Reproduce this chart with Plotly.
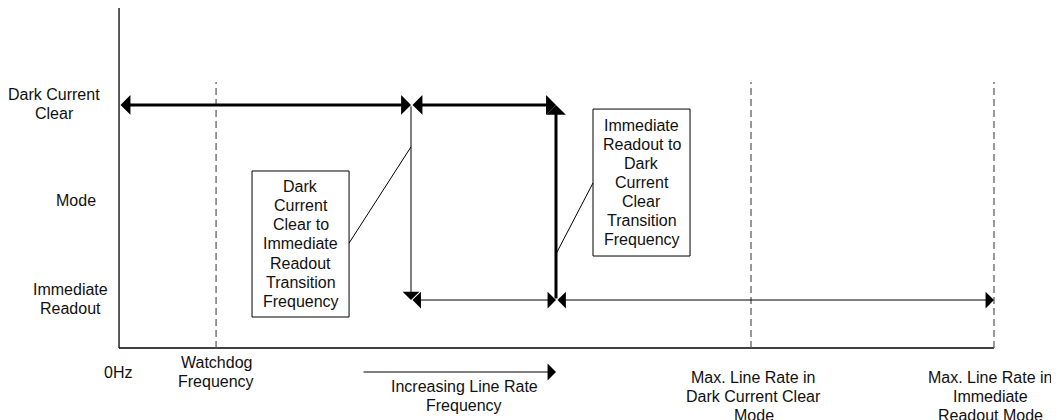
import plotly.graph_objects as go

# Frequency axis in arbitrary units (0Hz = 0, max rate in Immediate Readout = 100)
freq_names = ["0Hz", "Watchdog", "DCC->IR", "IR->DCC", "Max DCC", "Max IR"]
freq_vals = [0.0, 11.09, 33.37, 49.94, 72.23, 100.0]

# Mode levels on the y axis (Immediate Readout = 0, Dark Current Clear = 1)
mode_labels = [["Immediate", "Readout"], ["Mode"], ["Dark Current", "Clear"]]
mode_vals = [0.005, 0.508, 1.005]
mode_label_x = [-5.6, -4.91, -7.43]

# Mode bands: start freq, end freq, level, thick line
band_start = [0.0, 33.37, 33.37, 49.94]
band_end = [33.37, 49.94, 49.94, 100.0]
band_level = [1.0, 1.0, 0.0, 0.0]
band_thick = [True, True, False, False]

# Vertical transitions: freq, from level, to level, thick line
trans_freq = [33.37, 49.94]
trans_from = [1.0, 0.0]
trans_to = [0.0, 1.0]
trans_thick = [False, True]

# Dashed reference frequencies
dashed_freq = [11.09, 72.23, 100.0]
dashed_top = 1.118

axis_floor = -0.246
axis_top = 1.497

# Labels under the x axis
bottom_text = [["0Hz"], ["Watchdog", "Frequency"], ["Increasing Line Rate", "Frequency"],
               ["Max. Line Rate in", "Dark Current Clear", "Mode"],
               ["Max. Line Rate in", "Immediate", "Readout Mode"]]
bottom_x = [-0.11, 11.09, 39.43, 72.57, 99.6]
bottom_y = [-0.374, -0.369, -0.492, -0.492, -0.492]
incr_x0, incr_x1, incr_y = 27.77, 49.94, -0.369

# Callout boxes and leader lines
box_text = [["Dark", "Current", "Clear to", "Immediate", "Readout", "Transition", "Frequency"],
            ["Immediate", "Readout to", "Dark", "Current", "Clear", "Transition", "Frequency"]]
box_x0 = [15.2, 54.17]
box_x1 = [26.29, 65.26]
box_y0 = [-0.087, 0.2256]
box_y1 = [0.6615, 0.979]
lead_x0 = [26.29, 54.17]
lead_y0 = [0.292, 0.6]
lead_x1 = [33.37, 50.0]
lead_y1 = [0.785, 0.241]

LINE = 19 / 195  # line spacing in y units
FONT = dict(family="Arial, Liberation Sans, sans-serif", size=16, color="#111111")

shapes = []
annotations = []


def text_block(lines, cx, cy):
    n = len(lines)
    out = []
    for i, ln in enumerate(lines):
        out.append(dict(x=cx, y=cy + ((n - 1) / 2 - i) * LINE, text=ln, showarrow=False,
                        xref="x", yref="y", font=FONT, xanchor="center", yanchor="middle"))
    return out


def arrow(x, y, ax, ay, thick, double):
    return dict(x=x, y=y, ax=ax, ay=ay, xref="x", yref="y", axref="x", ayref="y",
                text="", showarrow=True, arrowhead=1,
                arrowside="end+start" if double else "end",
                arrowwidth=3 if thick else 1,
                arrowsize=1.1 if thick else 2.8,
                arrowcolor="black")


# axes
shapes.append(dict(type="line", x0=0, x1=0, y0=axis_floor, y1=axis_top,
                   line=dict(color="black", width=1.3)))
shapes.append(dict(type="line", x0=0, x1=freq_vals[-1], y0=axis_floor, y1=axis_floor,
                   line=dict(color="black", width=1.3)))

for f in dashed_freq:
    shapes.append(dict(type="line", x0=f, x1=f, y0=axis_floor, y1=dashed_top,
                       line=dict(color="#555555", width=1.2, dash="7px,4px")))

for s, e, lv, th in zip(band_start, band_end, band_level, band_thick):
    annotations.append(arrow(e, lv, s, lv, th, True))

for f, a, b, th in zip(trans_freq, trans_from, trans_to, trans_thick):
    annotations.append(arrow(f, b, f, a, th, False))

annotations.append(arrow(incr_x1, incr_y, incr_x0, incr_y, False, False))

for t, x, y in zip(mode_labels, mode_label_x, mode_vals):
    annotations += text_block(t, x, y)

for t, x, y in zip(bottom_text, bottom_x, bottom_y):
    annotations += text_block(t, x, y)

for t, x0, x1, y0, y1, lx0, ly0, lx1, ly1 in zip(box_text, box_x0, box_x1, box_y0, box_y1,
                                                 lead_x0, lead_y0, lead_x1, lead_y1):
    shapes.append(dict(type="rect", x0=x0, x1=x1, y0=y0, y1=y1,
                       line=dict(color="black", width=1), fillcolor="white"))
    shapes.append(dict(type="line", x0=lx0, x1=lx1, y0=ly0, y1=ly1,
                       line=dict(color="black", width=1)))
    annotations += text_block(t, (x0 + x1) / 2, (y0 + y1) / 2)

fig = go.Figure()
# page body keeps its 8px margin, so the figure is 8px smaller than the window
fig.update_layout(
    width=1051, height=412,
    margin=dict(l=0, r=0, t=0, b=0),
    paper_bgcolor="white", plot_bgcolor="white",
    xaxis=dict(range=[-12.69, 107.43], visible=False, fixedrange=True),
    yaxis=dict(range=[-0.615, 1.497], visible=False, fixedrange=True),
    shapes=shapes, annotations=annotations,
    showlegend=False,
)

fig.write_html("out.html")
